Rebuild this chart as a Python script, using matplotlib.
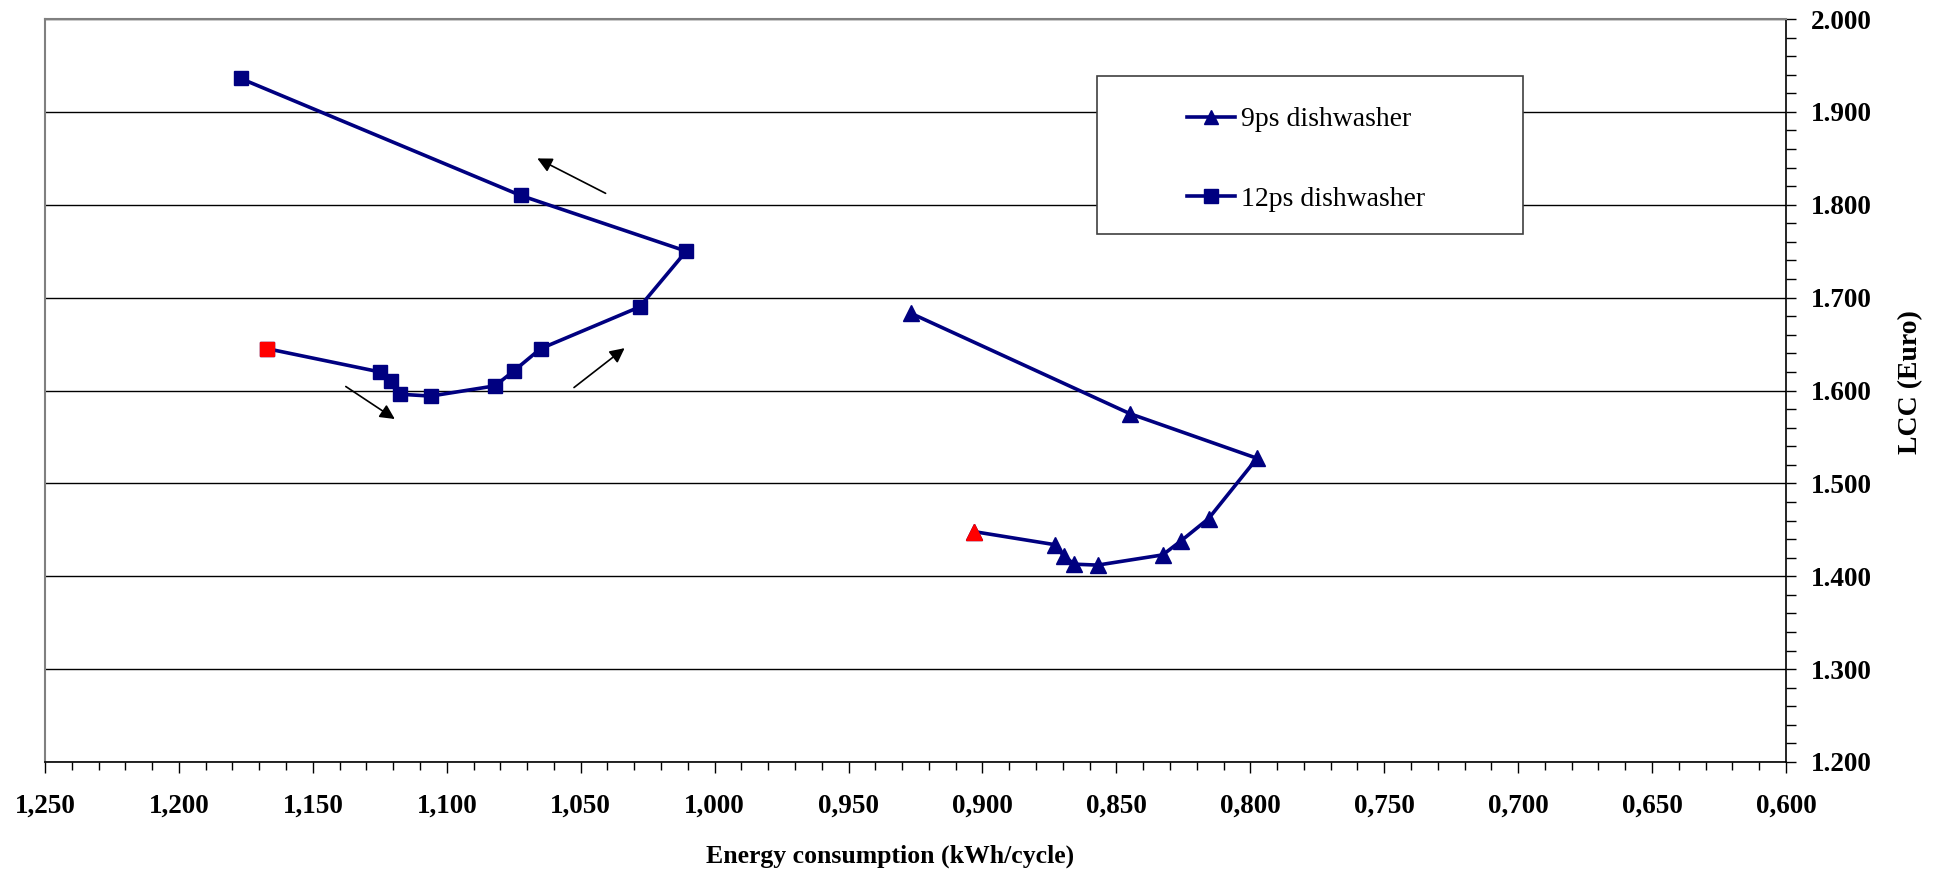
import matplotlib
matplotlib.use("Agg")
import matplotlib.pyplot as plt
from matplotlib.patches import Rectangle
from matplotlib.ticker import MultipleLocator, FuncFormatter

plt.rcParams['font.family'] = ['Liberation Serif', 'DejaVu Serif']

# 12 place-settings dishwasher: energy (kWh/cycle) vs life-cycle cost (Euro)
energy_12ps = [1.167, 1.125, 1.121, 1.1175, 1.106, 1.082, 1.075, 1.065,
               1.028, 1.0106, 1.0724, 1.177]
lcc_12ps = [1.645, 1.620, 1.610, 1.596, 1.594, 1.605, 1.621, 1.645,
            1.690, 1.750, 1.810, 1.936]

# 9 place-settings dishwasher
energy_9ps = [0.903, 0.873, 0.8697, 0.8657, 0.857, 0.8327, 0.8259, 0.8156,
              0.7975, 0.8449, 0.9266]
lcc_9ps = [1.448, 1.434, 1.422, 1.413, 1.412, 1.423, 1.438, 1.462,
           1.527, 1.575, 1.683]

# direction arrows (tail -> head) in data units
arrow_tails = [(1.0407, 1.8123), (1.0525, 1.6032), (1.1377, 1.6043)]
arrow_heads = [(1.0662, 1.8499), (1.0336, 1.6456), (1.1194, 1.5693)]

NAVY = "#000080"
RED = "#FF0000"

fig = plt.figure(figsize=(19.45, 8.74), dpi=100)
ax = fig.add_axes([0.02314, 0.12815, 0.8951, 0.8501])

l9, = ax.plot(energy_9ps, lcc_9ps, color=NAVY, lw=2.6, marker="^",
              markersize=11, zorder=4, label="9ps dishwasher")
l12, = ax.plot(energy_12ps, lcc_12ps, color=NAVY, lw=2.6, marker="s",
               markersize=10, zorder=4, label="12ps dishwasher")
# base case highlighted in red
ax.plot(energy_9ps[0], lcc_9ps[0], ls="none", marker="^", markersize=11,
        color=RED, zorder=5)
ax.plot(energy_12ps[0], lcc_12ps[0], ls="none", marker="s", markersize=10,
        color=RED, zorder=5)

for tail, head in zip(arrow_tails, arrow_heads):
    ax.annotate("", xy=head, xytext=tail,
                arrowprops=dict(arrowstyle="-|>", color="black", lw=1.2,
                                mutation_scale=22, shrinkA=0, shrinkB=0))

ax.set_xlim(1.25, 0.6)
ax.set_ylim(1.2, 2.0)

ax.xaxis.set_major_locator(MultipleLocator(0.05))
ax.xaxis.set_minor_locator(MultipleLocator(0.01))
ax.yaxis.set_major_locator(MultipleLocator(0.1))
ax.yaxis.set_minor_locator(MultipleLocator(0.02))
ax.xaxis.set_major_formatter(FuncFormatter(lambda v, p: f"{v:.3f}".replace(".", ",")))
ax.yaxis.set_major_formatter(FuncFormatter(lambda v, p: f"{v:.3f}"))

ax.yaxis.tick_right()
ax.yaxis.set_label_position("right")
ax.tick_params(axis="x", which="major", length=8, width=1, pad=14.5,
               labelsize=19.5, direction="out")
ax.tick_params(axis="x", which="minor", length=6, width=1, direction="out")
ax.tick_params(axis="y", which="both", length=7, width=1, pad=11,
               labelsize=19.5, direction="out")
for lab in ax.get_xticklabels() + ax.get_yticklabels():
    lab.set_fontweight("bold")

ax.yaxis.grid(True, which="major", color="black", lw=1)
ax.set_axisbelow(True)
for side in ("top", "left"):
    ax.spines[side].set_color("#808080")
    ax.spines[side].set_linewidth(1.5)
for side in ("bottom", "right"):
    ax.spines[side].set_color("black")
    ax.spines[side].set_linewidth(1.2)

ax.set_xlabel("Energy consumption (kWh/cycle)", fontsize=18.5, fontweight="bold")
ax.xaxis.set_label_coords(0.4853, -0.1265)
ax.xaxis.label.set_va("center")
ax.set_ylabel("LCC (Euro)", fontsize=20, fontweight="bold", rotation=90)
ax.yaxis.set_label_coords(1.0718, 0.5114)
ax.yaxis.label.set_va("center")
ax.yaxis.label.set_ha("center")

# legend box
ax.add_patch(Rectangle((0.6043, 0.7106), 0.2446, 0.2127, transform=ax.transAxes,
                       facecolor="white", edgecolor="#404040", lw=1.2, zorder=3))
ax.legend(handles=[l9, l12], loc="center", bbox_to_anchor=(0.7242, 0.811),
          frameon=False, fontsize=20, handlelength=1.75, handletextpad=0.2,
          labelspacing=1.95, markerscale=0.95)

fig.savefig("out.png", dpi=100)
